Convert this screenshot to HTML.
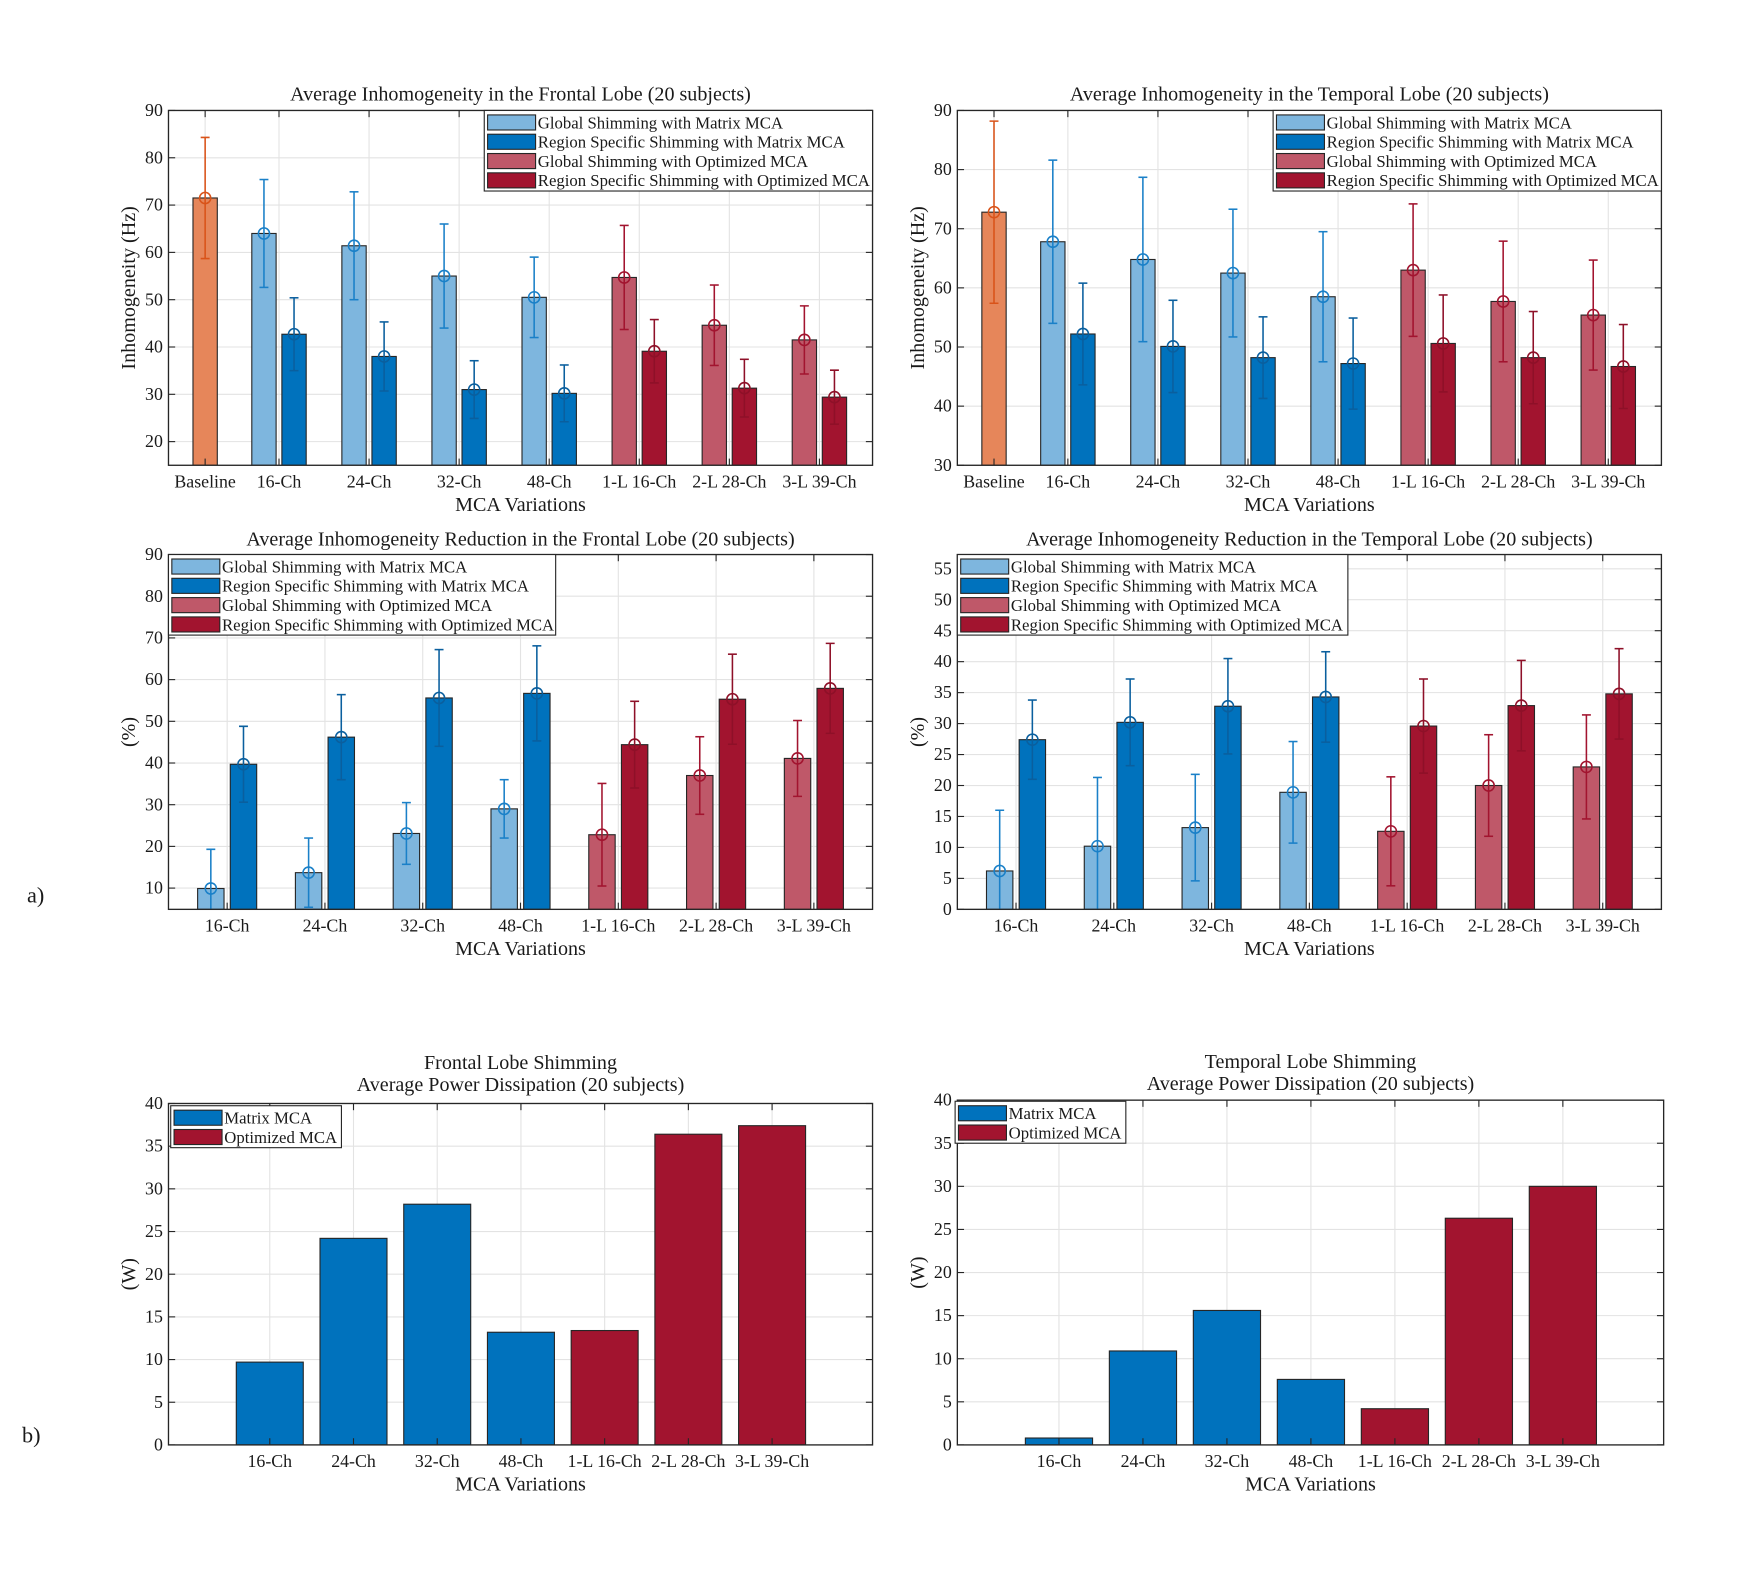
<!DOCTYPE html>
<html><head><meta charset="utf-8"><style>
html,body{margin:0;padding:0;background:#fff;}
svg{display:block;font-family:"Liberation Serif",serif;}
</style></head>
<body>
<svg id="fig" width="1749" height="1571" viewBox="0 0 1567.5 1408" preserveAspectRatio="none" xmlns="http://www.w3.org/2000/svg"></svg>
<script>
// ---------- data ----------
const groupCats = ["16-Ch","24-Ch","32-Ch","48-Ch","1-L 16-Ch","2-L 28-Ch","3-L 39-Ch"];
const legendLabels = ["Global Shimming with Matrix MCA","Region Specific Shimming with Matrix MCA","Global Shimming with Optimized MCA","Region Specific Shimming with Optimized MCA"];
const powerLegend = ["Matrix MCA","Optimized MCA"];

const frontalBaseline = 71.5, frontalBaselineErr = 12.8;
const frontalGlobal = [64,61.4,55,50.5,54.7,44.6,41.5];
const frontalGlobalErr = [11.4,11.4,11,8.5,11,8.5,7.2];
const frontalRegion = [42.7,38,31,30.2,39.1,31.3,29.4];
const frontalRegionErr = [7.7,7.3,6.1,6,6.7,6.1,5.7];

const temporalBaseline = 72.8, temporalBaselineErr = 15.4;
const temporalGlobal = [67.8,64.8,62.5,58.5,63,57.7,55.4];
const temporalGlobalErr = [13.8,13.9,10.8,11,11.2,10.2,9.3];
const temporalRegion = [52.2,50.1,48.2,47.2,50.6,48.2,46.7];
const temporalRegionErr = [8.6,7.8,6.9,7.7,8.2,7.8,7.1];

const frontalRedGlobal = [9.9,13.7,23.1,29,22.8,37,41.1];
const frontalRedGlobalErr = [9.4,8.3,7.4,7,12.3,9.3,9.1];
const frontalRedRegion = [39.7,46.2,55.6,56.7,44.4,55.3,57.9];
const frontalRedRegionErr = [9.1,10.2,11.6,11.4,10.4,10.8,10.8];

const temporalRedGlobal = [6.2,10.2,13.2,18.9,12.6,20,23];
const temporalRedGlobalErr = [9.8,11.1,8.6,8.2,8.8,8.2,8.4];
const temporalRedRegion = [27.4,30.2,32.8,34.3,29.6,32.9,34.8];
const temporalRedRegionErr = [6.4,7,7.7,7.3,7.6,7.3,7.3];

const frontalPower = [9.7,24.2,28.2,13.2,13.4,36.4,37.4];
const temporalPower = [0.8,10.9,15.6,7.6,4.2,26.3,30];

const ticksA = [20,30,40,50,60,70,80,90];
const ticksB = [30,40,50,60,70,80,90];
const ticksC = [10,20,30,40,50,60,70,80,90];
const ticksD = [0,5,10,15,20,25,30,35,40,45,50,55];
const ticksE = [0,5,10,15,20,25,30,35,40];

// ---------- drawing ----------
const NS="http://www.w3.org/2000/svg";
const svg=document.getElementById('fig');
const C={lb:"#7EB6DE",db:"#0072BD",lr:"#BF5869",dr:"#A2142F",or:"#E6865A",ore:"#D95319"};
let clipId=0;
function el(tag,attrs,parent){const e=document.createElementNS(NS,tag);for(const k in attrs)e.setAttribute(k,attrs[k]);(parent||svg).appendChild(e);return e;}
function txt(s,x,y,size,anchor,parent,rot){const t=el('text',{x:x,y:y,'font-size':size,'text-anchor':anchor||'middle',fill:'#1a1a1a'},parent);if(rot)t.setAttribute('transform',`rotate(-90 ${x} ${y})`);t.textContent=s;return t;}

function makeAxes(o,name){
  const g=el('g',{});
  
  
  const sx=v=>o.x0+(v-o.xmin)/(o.xmax-o.xmin)*(o.x1-o.x0);
  const sy=v=>o.y1-(v-o.ymin)/(o.ymax-o.ymin)*(o.y1-o.y0);
  el('rect',{x:o.x0,y:o.y0,width:o.x1-o.x0,height:o.y1-o.y0,fill:'#fff'},g);
  const grid=el('g',{stroke:'#e3e3e3','stroke-width':1},g);
  
  
  o.yticks.forEach(v=>{const y=sy(v);el('line',{x1:o.x0,x2:o.x1,y1:y,y2:y},grid);});
  o.xtickPos.forEach(v=>{const x=sx(v);el('line',{x1:x,x2:x,y1:o.y0,y2:o.y1},grid);});
  const cid='clip'+(clipId++);
  const cp=el('clipPath',{id:cid},g);el('rect',{x:o.x0,y:o.y0,width:o.x1-o.x0,height:o.y1-o.y0},cp);
  const plot=el('g',{'clip-path':`url(#${cid})`},g);
  return {g,sx,sy,plot};
}
function finishAxes(o,A){
  const g=A.g;
  const tk=el('g',{stroke:'#262626','stroke-width':1},g);
  o.yticks.forEach(v=>{const y=A.sy(v);el('line',{x1:o.x0,x2:o.x0+6,y1:y,y2:y},tk);el('line',{x1:o.x1,x2:o.x1-6,y1:y,y2:y},tk);
    const t=txt(String(v),o.x0-5,y+5,16,'end',g);});
  o.xtickPos.forEach((v,i)=>{const x=A.sx(v);el('line',{x1:x,x2:x,y1:o.y1,y2:o.y1-6},tk);el('line',{x1:x,x2:x,y1:o.y0,y2:o.y0+6},tk);
    const t=txt(o.xlabels[i],x,o.y1+20,16,'middle',g);});
  el('rect',{x:o.x0,y:o.y0,width:o.x1-o.x0,height:o.y1-o.y0,fill:'none',stroke:'#262626','stroke-width':1.2},g);
  o.title.forEach((s,i)=>{const t=txt(s,(o.x0+o.x1)/2,o.titleY+i*20,18,'middle',g);});
  const xt=txt('MCA Variations',(o.x0+o.x1)/2,o.y1+41,18,'middle',g);
  const yt=txt(o.ylabel,o.x0-30,(o.y0+o.y1)/2,18,'middle',g,true);
  const L=o.legend;const lg=el('g',{},g);
  
  
  el('rect',{x:L.x,y:L.y,width:L.w,height:L.items.length*17.3+3,fill:'#fff',stroke:'#262626','stroke-width':1},lg);
  L.items.forEach((it,i)=>{const y=L.y+3+i*17.3;
    const e=el('g',{},lg);
    
    
    el('rect',{x:L.x+3,y:y+1,width:43,height:13.5,fill:it[1],stroke:'#262626','stroke-width':1},e);
    txt(it[0],L.x+48,y+13,15,'start',e);});
}
function errbar(p,x,m,sy,col,w){
  const g=el('g',{stroke:col,'stroke-width':1.4,fill:'none'},p);
  
  
  const yt=sy(m+w),yb=sy(m-w),y=sy(m);
  el('line',{x1:x,x2:x,y1:yt,y2:yb},g);
  el('line',{x1:x-4,x2:x+4,y1:yt,y2:yt},g);
  el('line',{x1:x-4,x2:x+4,y1:yb,y2:yb},g);
  el('circle',{cx:x,cy:y,r:5},g);
}
function bar(p,A,xc,wu,v,col,ymin){
  const x0=A.sx(xc-wu/2),x1=A.sx(xc+wu/2);
  const r=el('rect',{x:x0,y:A.sy(v),width:x1-x0,height:A.sy(ymin)-A.sy(v),fill:col,stroke:'#262626','stroke-width':1},p);
  
  
}
function grouped(o,name,gv,ge,rv,re,base,baseErr){
  const A=makeAxes(o,name);
  const off=0.167,w=0.27;
  if(base!==null){bar(A.plot,A,0.18,w,base,C.or,o.ymin);}
  gv.forEach((v,i)=>{bar(A.plot,A,i+1-off,w,v,i<4?C.lb:C.lr,o.ymin);});
  rv.forEach((v,i)=>{bar(A.plot,A,i+1+off,w,v,i<4?C.db:C.dr,o.ymin);});
  if(base!==null)errbar(A.plot,A.sx(0.18),base,A.sy,C.ore,baseErr);
  gv.forEach((v,i)=>{errbar(A.plot,A.sx(i+1-off),v,A.sy,i<4?'#1a80c8':C.dr,ge[i]);});
  rv.forEach((v,i)=>{errbar(A.plot,A.sx(i+1+off),v,A.sy,i<4?'#0a5f9e':'#8e1028',re[i]);});
  finishAxes(o,A);
}
function power(o,name,vals){
  const A=makeAxes(o,name);
  vals.forEach((v,i)=>bar(A.plot,A,i+1,0.8,v,i<4?C.db:C.dr,o.ymin));
  finishAxes(o,A);
}
const legItems4=[[legendLabels[0],C.lb],[legendLabels[1],C.db],[legendLabels[2],C.lr],[legendLabels[3],C.dr]];
const legItems2=[[powerLegend[0],C.db],[powerLegend[1],C.dr]];
const topX=[0.18,1,2,3,4,5,6,7], topLab=["Baseline"].concat(groupCats);
const midX=[1,2,3,4,5,6,7];

grouped({x0:151,x1:782,y0:99,y1:417,xmin:-0.227,xmax:7.59,ymin:15,ymax:90,yticks:ticksA,xtickPos:topX,xlabels:topLab,
  title:["Average Inhomogeneity in the Frontal Lobe (20 subjects)"],titleY:90,ylabel:"Inhomogeneity (Hz)",
  legend:{x:434,y:99,w:348,items:legItems4}},'frontal-inhomogeneity-chart',frontalGlobal,frontalGlobalErr,frontalRegion,frontalRegionErr,frontalBaseline,frontalBaselineErr);
grouped({x0:858,x1:1489,y0:99,y1:417,xmin:-0.227,xmax:7.59,ymin:30,ymax:90,yticks:ticksB,xtickPos:topX,xlabels:topLab,
  title:["Average Inhomogeneity in the Temporal Lobe (20 subjects)"],titleY:90,ylabel:"Inhomogeneity (Hz)",
  legend:{x:1141,y:99,w:348,items:legItems4}},'temporal-inhomogeneity-chart',temporalGlobal,temporalGlobalErr,temporalRegion,temporalRegionErr,temporalBaseline,temporalBaselineErr);
grouped({x0:151,x1:782,y0:497,y1:815,xmin:0.4,xmax:7.6,ymin:4.9,ymax:90,yticks:ticksC,xtickPos:midX,xlabels:groupCats,
  title:["Average Inhomogeneity Reduction in the Frontal Lobe (20 subjects)"],titleY:489,ylabel:"(%)",
  legend:{x:151,y:497,w:347,items:legItems4}},'frontal-reduction-chart',frontalRedGlobal,frontalRedGlobalErr,frontalRedRegion,frontalRedRegionErr,null,0);
grouped({x0:858,x1:1489,y0:497,y1:815,xmin:0.4,xmax:7.6,ymin:0,ymax:57.3,yticks:ticksD,xtickPos:midX,xlabels:groupCats,
  title:["Average Inhomogeneity Reduction in the Temporal Lobe (20 subjects)"],titleY:489,ylabel:"(%)",
  legend:{x:858,y:497,w:350,items:legItems4}},'temporal-reduction-chart',temporalRedGlobal,temporalRedGlobalErr,temporalRedRegion,temporalRedRegionErr,null,0);
power({x0:151,x1:782,y0:989,y1:1295,xmin:-0.21,xmax:8.2,ymin:0,ymax:40,yticks:ticksE,xtickPos:midX,xlabels:groupCats,
  title:["Frontal Lobe Shimming","Average Power Dissipation (20 subjects)"],titleY:958,ylabel:"(W)",
  legend:{x:153,y:991,w:153,items:legItems2}},'frontal-power-chart',frontalPower);
power({x0:858,x1:1491,y0:986,y1:1295,xmin:-0.21,xmax:8.2,ymin:0,ymax:40,yticks:ticksE,xtickPos:midX,xlabels:groupCats,
  title:["Temporal Lobe Shimming","Average Power Dissipation (20 subjects)"],titleY:957,ylabel:"(W)",
  legend:{x:856,y:987,w:153,items:legItems2}},'temporal-power-chart',temporalPower);
const la=txt('a)',32,809,20,'middle');
const lb=txt('b)',28,1293,20,'middle');
</script>
</body></html>
